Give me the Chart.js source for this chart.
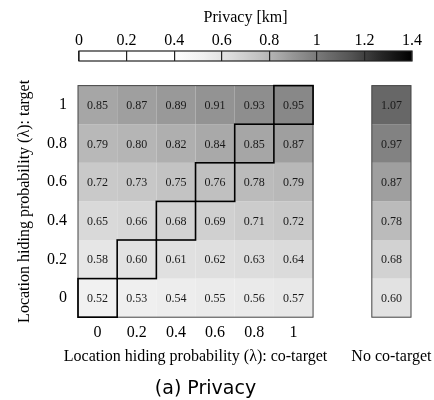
<!DOCTYPE html>
<html>
<head>
<meta charset="utf-8">
<script src="https://cdn.jsdelivr.net/npm/chart.js@4.4.1/dist/chart.umd.min.js"></script>
<style>
  body { margin: 0; background: #fff; width: 434px; height: 400px; overflow: hidden; position: relative; }
  #bar { position: absolute; left: 0; top: 0; }
  #heat { position: absolute; left: 0; top: 65px; }
</style>
</head>
<body>
<canvas id="bar" width="434" height="65"></canvas>
<canvas id="heat" width="434" height="335"></canvas>
<script>
const lambdaCoTarget = [0, 0.2, 0.4, 0.6, 0.8, 1];
const lambdaTarget = [0, 0.2, 0.4, 0.6, 0.8, 1];
// privacy [km]; one row per target lambda (0 -> 1), columns = co-target lambda
const privacy = [
  [0.52, 0.53, 0.54, 0.55, 0.56, 0.57],
  [0.58, 0.60, 0.61, 0.62, 0.63, 0.64],
  [0.65, 0.66, 0.68, 0.69, 0.71, 0.72],
  [0.72, 0.73, 0.75, 0.76, 0.78, 0.79],
  [0.79, 0.80, 0.82, 0.84, 0.85, 0.87],
  [0.85, 0.87, 0.89, 0.91, 0.93, 0.95],
];
const noCoTarget = [0.60, 0.68, 0.78, 0.87, 0.97, 1.07];
const colorbarTicks = [0, 0.2, 0.4, 0.6, 0.8, 1, 1.2, 1.4];

const NO_CO_X = 1.5;   // where the "No co-target" column sits on the x scale
const HALF = 0.1;      // half a cell in data units
const VMIN = 0.4, VMAX = 1.4;
const GREYS = ['#ffffff', '#f0f0f0', '#d9d9d9', '#bdbdbd', '#969696', '#737373', '#525252', '#252525', '#000000'];
const SERIF = "'Liberation Serif', 'Times New Roman', serif";

function hex(c) { return [1, 3, 5].map(i => parseInt(c.slice(i, i + 2), 16)); }
function greyAt(t) {
  t = Math.max(0, Math.min(1, t));
  const f = t * (GREYS.length - 1), i = Math.min(Math.floor(f), GREYS.length - 2), k = f - i;
  const a = hex(GREYS[i]), b = hex(GREYS[i + 1]);
  const c = a.map((v, j) => Math.round(v + (b[j] - v) * k));
  return `rgb(${c[0]},${c[1]},${c[2]})`;
}
const colorOf = v => greyAt((v - VMIN) / (VMAX - VMIN));
const fmt = v => String(+v.toFixed(1));

// ---------- colour bar ----------
const gradientPlugin = {
  id: 'gradient',
  beforeDraw(chart) {
    const { ctx, chartArea: a, scales: { x } } = chart;
    const x0 = x.getPixelForValue(0), x1 = x.getPixelForValue(1.4);
    const g = ctx.createLinearGradient(x0, 0, x1, 0);
    g.addColorStop(0, '#ffffff');
    for (let i = 0; i <= 40; i++) {
      const v = VMIN + (VMAX - VMIN) * i / 40;
      g.addColorStop(v / 1.4, colorOf(v));
    }
    ctx.save();
    ctx.fillStyle = g;
    ctx.fillRect(a.left, a.top, a.right - a.left, a.bottom - a.top);
    ctx.restore();
  },
  afterDraw(chart) {
    const { ctx, chartArea: a } = chart;
    ctx.save();
    ctx.strokeStyle = '#222';
    ctx.lineWidth = 1.2;
    ctx.strokeRect(a.left, a.top, a.right - a.left, a.bottom - a.top);
    ctx.restore();
  }
};

new Chart(document.getElementById('bar'), {
  type: 'scatter',
  data: { datasets: [{ data: [], pointRadius: 0 }] },
  options: {
    responsive: false,
    animation: false,
    devicePixelRatio: 1,
    layout: { padding: { left: 79, right: 22, top: 0, bottom: 4 } },
    plugins: { legend: { display: false }, tooltip: { enabled: false } },
    scales: {
      x: {
        type: 'linear', position: 'top', min: 0, max: 1.4,
        afterBuildTicks: s => { s.ticks = colorbarTicks.map(v => ({ value: v })); },
        afterFit: s => { s.height = 51; },
        ticks: { color: '#000', font: { family: SERIF, size: 16 }, padding: 1, maxRotation: 0, callback: v => fmt(v) },
        grid: { color: '#222', lineWidth: 1.2, drawTicks: false },
        border: { display: false },
        title: { display: true, text: 'Privacy [km]', color: '#000', font: { family: SERIF, size: 16 }, padding: { top: 8, bottom: 0 } },
      },
      y: { display: false, min: 0, max: 1 },
    },
  },
  plugins: [gradientPlugin],
});

// ---------- heat map ----------
const cells = [];
lambdaTarget.forEach((ty, i) => {
  lambdaCoTarget.forEach((cx, j) => cells.push({ x: cx, y: ty, v: privacy[i][j] }));
  cells.push({ x: NO_CO_X, y: ty, v: noCoTarget[i] });
});

const cellPlugin = {
  id: 'cells',
  beforeDatasetsDraw(chart) {
    const { ctx, scales: { x, y } } = chart;
    const box = (cx, cy, hx, hy) => {
      const l = x.getPixelForValue(cx - hx), r = x.getPixelForValue(cx + hx);
      const t = y.getPixelForValue(cy + hy), b = y.getPixelForValue(cy - hy);
      return [l, t, r - l, b - t];
    };
    ctx.save();
    chart.data.datasets[0].data.forEach(p => {
      ctx.fillStyle = colorOf(p.v);
      ctx.fillRect(...box(p.x, p.y, HALF, HALF));
    });
    ctx.fillStyle = '#1a1a1a';
    ctx.font = `12px ${SERIF}`;
    ctx.textAlign = 'center';
    ctx.textBaseline = 'middle';
    chart.data.datasets[0].data.forEach(p => {
      ctx.fillText(p.v.toFixed(2), x.getPixelForValue(p.x), y.getPixelForValue(p.y) + 1);
    });
    // frames
    ctx.strokeStyle = '#444';
    ctx.lineWidth = 1;
    ctx.strokeRect(...box(0.5, 0.5, 0.6, 0.6));
    ctx.strokeRect(...box(NO_CO_X, 0.5, HALF, 0.6));
    // diagonal: same lambda for target and co-target
    ctx.strokeStyle = '#000';
    ctx.lineWidth = 1.6;
    lambdaTarget.forEach((ty, i) => ctx.strokeRect(...box(lambdaCoTarget[i], ty, HALF, HALF)));
    // axis titles on the x title line: main grid and the extra column
    ctx.fillStyle = '#000';
    ctx.font = `16px ${SERIF}`;
    const ty = x.bottom - 9.6;
    ctx.fillText('Location hiding probability (\u03bb): co-target', x.getPixelForValue(0.5), ty);
    ctx.fillText('No co-target', x.getPixelForValue(NO_CO_X), ty);
    ctx.restore();
  }
};

new Chart(document.getElementById('heat'), {
  type: 'scatter',
  data: { datasets: [{ data: cells, pointRadius: 0 }] },
  options: {
    responsive: false,
    animation: false,
    devicePixelRatio: 1,
    layout: { padding: { left: 0, right: 23, top: 16, bottom: 0 } },
    plugins: {
      legend: { display: false },
      tooltip: { enabled: false },
      title: {
        display: true, position: 'bottom', text: '(a) Privacy', color: '#000',
        font: { family: "'DejaVu Sans', sans-serif", size: 19, weight: 'normal' },
        padding: { top: 11, bottom: 0 },
      },
    },
    scales: {
      x: {
        type: 'linear', min: -0.1, max: 1.6,
        afterBuildTicks: s => { s.ticks = lambdaCoTarget.map(v => ({ value: v })); },
        afterFit: s => { s.height = 49; },
        ticks: { color: '#000', font: { family: SERIF, size: 16 }, padding: 6, maxRotation: 0, callback: v => fmt(v) },
        grid: { display: false, drawTicks: false },
        border: { display: false },
        title: { display: false },
      },
      y: {
        type: 'linear', min: -0.1, max: 1.1,
        afterBuildTicks: s => { s.ticks = lambdaTarget.map(v => ({ value: v })); },
        afterFit: s => { s.width = 78; },
        ticks: { color: '#000', font: { family: SERIF, size: 16 }, padding: 11, callback: v => fmt(v) },
        grid: { display: false, drawTicks: false },
        border: { display: false },
        title: {
          display: true, text: 'Location hiding probability (\u03bb): target', color: '#000',
          font: { family: SERIF, size: 16 }, padding: { top: 15, bottom: 0 },
        },
      },
    },
  },
  plugins: [cellPlugin],
});
</script>
</body>
</html>
